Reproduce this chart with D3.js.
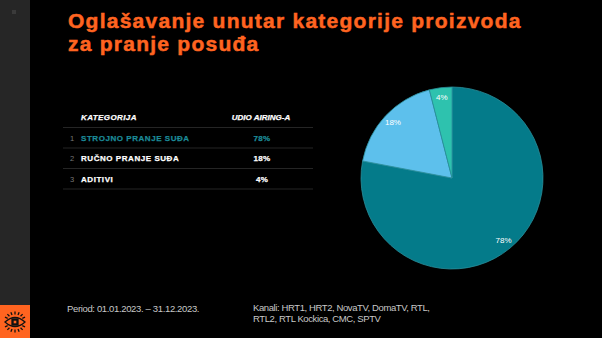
<!DOCTYPE html>
<html><head><meta charset="utf-8">
<script src="https://cdn.jsdelivr.net/npm/d3@7"></script>
<style>
html,body{margin:0;padding:0;background:#000;}
svg{display:block;}
text{font-family:"Liberation Sans",Arial,sans-serif;}
</style></head>
<body>
<svg id="c" width="602" height="338"></svg>
<script>
// ---- data ----
const titleLines = ["Oglašavanje unutar kategorije proizvoda", "za pranje posuđa"];
const tableHeaders = ["KATEGORIJA", "UDIO AIRING-A"];
const categories = ["STROJNO PRANJE SUĐA", "RUČNO PRANJE SUĐA", "ADITIVI"];
const shares = [78, 18, 4];
const periodText = "Period: 01.01.2023. – 31.12.2023.";
const channelLines = ["Kanali: HRT1, HRT2,  NovaTV, DomaTV, RTL,", "RTL2, RTL Kockica, CMC, SPTV"];
const sliceColors = ["#047B8A", "#5DC0EC", "#2EC2AE"];

const svg = d3.select("#c");
const orange = "#FF6420";

// background & sidebar
svg.append("rect").attr("width", 602).attr("height", 338).attr("fill", "#000");
svg.append("rect").attr("x", 0).attr("y", 0).attr("width", 30).attr("height", 338).attr("fill", "#262626");
svg.append("rect").attr("x", 12).attr("y", 10).attr("width", 4).attr("height", 4).attr("fill", "#3a3a3a");
svg.append("rect").attr("x", 0).attr("y", 305).attr("width", 30).attr("height", 33).attr("fill", orange);

// eye icon
const icon = svg.append("g").attr("transform", "translate(15,322)").attr("stroke", "#111").attr("fill", "none").attr("stroke-width", 1.3);
icon.append("path").attr("d", "M-10,0 Q0,-9 10,0 Q0,9 -10,0 Z");
icon.append("rect").attr("x", -3).attr("y", -3).attr("width", 6).attr("height", 6).attr("fill", "#111");
icon.append("rect").attr("x", -1.3).attr("y", -1.3).attr("width", 2.6).attr("height", 2.6).attr("fill", orange).attr("stroke", "none");
d3.range(-3, 4).forEach(i => {
  const a = (i * 22) * Math.PI / 180;
  icon.append("line").attr("x1", Math.sin(a) * 8).attr("y1", -Math.cos(a) * 6.5 - 1)
    .attr("x2", Math.sin(a) * 11).attr("y2", -Math.cos(a) * 9.5 - 1);
  icon.append("line").attr("x1", Math.sin(a) * 8).attr("y1", Math.cos(a) * 6.5 + 1)
    .attr("x2", Math.sin(a) * 11).attr("y2", Math.cos(a) * 9.5 + 1);
});

// title
svg.selectAll("text.title").data(titleLines).join("text").attr("class", "title")
  .attr("x", 68).attr("y", (d, i) => i === 0 ? 27.5 : 51)
  .attr("fill", orange).attr("stroke", orange).attr("stroke-width", 0.5)
  .attr("font-size", 21).attr("font-weight", "bold").attr("letter-spacing", 1.25)
  .text(d => d);

// table
const tbl = svg.append("g");
const lineYs = [127.5, 148, 168.5, 189];
tbl.selectAll("line").data(lineYs).join("line")
  .attr("x1", 63).attr("x2", 313).attr("y1", d => d).attr("y2", d => d)
  .attr("stroke", "#2e2e2e").attr("stroke-width", 0.8);
tbl.append("text").attr("x", 81).attr("y", 120).attr("fill", "#fff").attr("letter-spacing", 0.4)
  .attr("stroke", "#fff").attr("stroke-width", 0.25)
  .attr("font-size", 8).attr("font-weight", "bold").attr("font-style", "italic").text(tableHeaders[0]);
tbl.append("text").attr("x", 261).attr("y", 120).attr("fill", "#fff").attr("text-anchor", "middle")
  .attr("stroke", "#fff").attr("stroke-width", 0.25)
  .attr("font-size", 8).attr("font-weight", "bold").attr("font-style", "italic").text(tableHeaders[1]);

const rowY = d3.scaleBand().domain(d3.range(categories.length)).range([127.5, 189]);
const rowColor = i => i === 0 ? "#1C8B98" : "#fff";
const rows = tbl.selectAll("g.row").data(categories).join("g").attr("class", "row")
  .attr("transform", (d, i) => `translate(0,${rowY(i) + rowY.bandwidth() / 2 + 3})`);
rows.append("text").attr("x", 70).attr("fill", "#777").attr("font-size", 7.5).text((d, i) => i + 1);
rows.append("text").attr("x", 81).attr("fill", (d, i) => rowColor(i))
  .attr("stroke", (d, i) => rowColor(i)).attr("stroke-width", 0.25).attr("letter-spacing", 0.55)
  .attr("font-size", 8).attr("font-weight", "bold").text(d => d);
rows.append("text").attr("x", 262).attr("text-anchor", "middle").attr("fill", (d, i) => rowColor(i))
  .attr("stroke", (d, i) => rowColor(i)).attr("stroke-width", 0.25).attr("letter-spacing", 0.3)
  .attr("font-size", 8).attr("font-weight", "bold").text((d, i) => shares[i] + "%");

// pie
const cx = 452, cy = 178, R = 91;
const pie = d3.pie().sort(null).value(d => d)(shares);
const arc = d3.arc().innerRadius(0).outerRadius(R);
const labelArc = d3.arc().innerRadius(R * 0.89).outerRadius(R * 0.89);
const pg = svg.append("g").attr("transform", `translate(${cx},${cy})`);
pg.selectAll("path").data(pie).join("path")
  .attr("d", arc).attr("fill", (d, i) => sliceColors[i])
  .attr("stroke", "#2a8f9c").attr("stroke-width", 0.8);
pg.selectAll("text").data(pie).join("text")
  .attr("transform", d => `translate(${labelArc.centroid(d)})`)
  .attr("text-anchor", "middle").attr("dy", "0.35em")
  .attr("fill", "#fff").attr("font-size", 8).text(d => d.data + "%");

// footer
svg.append("text").attr("x", 67).attr("y", 312).attr("fill", "#c8c8c8")
  .attr("font-size", 9.5).attr("letter-spacing", -0.35).text(periodText);
svg.selectAll("text.ch").data(channelLines).join("text").attr("class", "ch")
  .attr("x", 253).attr("y", (d, i) => 311 + i * 11).attr("fill", "#c8c8c8")
  .attr("font-size", 9.5).attr("letter-spacing", -0.4).text(d => d);
</script>
</body></html>
